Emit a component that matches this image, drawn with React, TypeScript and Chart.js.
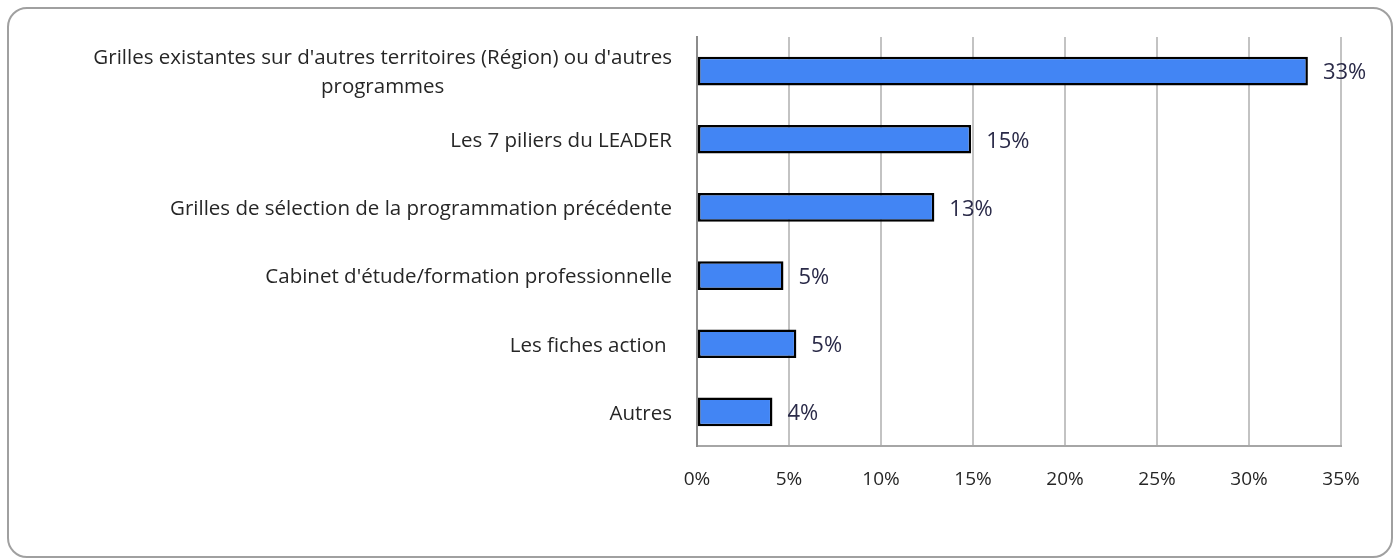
import React, { useEffect, useRef } from "react";
import { Chart, registerables } from "chart.js";

Chart.register(...registerables);

const categories: (string | string[])[] = [
  ["Grilles existantes sur d'autres territoires (Région) ou d'autres", "programmes"],
  "Les 7 piliers du LEADER",
  "Grilles de sélection de la programmation précédente",
  "Cabinet d'étude/formation professionnelle",
  "Les fiches action ",
  "Autres",
];
const values: number[] = [33.2, 14.9, 12.9, 4.7, 5.4, 4.1];
const valueLabels: string[] = ["33%", "15%", "13%", "5%", "5%", "4%"];

const FONT = "'Open Sans', Lato, sans-serif";

export default function App() {
  const ref = useRef<HTMLCanvasElement | null>(null);
  useEffect(() => {
    if (!ref.current) return;
    const labelPlugin = {
      id: "valueLabels",
      afterDatasetsDraw(chart: any) {
        const ctx = chart.ctx;
        const meta = chart.getDatasetMeta(0);
        ctx.save();
        ctx.font = `22px ${FONT}`;
        ctx.fillStyle = "#2a2a48";
        ctx.textAlign = "left";
        ctx.textBaseline = "middle";
        meta.data.forEach((el: any, i: number) => {
          ctx.fillText(valueLabels[i], el.x + 15, el.y + 2);
        });
        ctx.restore();
      },
    };
    const yLabelPlugin = {
      id: "yLabels",
      afterDraw(chart: any) {
        const ctx = chart.ctx;
        const scale = chart.scales.y;
        ctx.save();
        ctx.font = `20.5px ${FONT}`;
        ctx.fillStyle = "#262626";
        ctx.textBaseline = "middle";
        const right = chart.chartArea.left - 25;
        categories.forEach((c, i) => {
          const y = scale.getPixelForTick(i) + 2;
          const lines = Array.isArray(c) ? c : [c];
          const lh = 29;
          const w0 = ctx.measureText(lines[0]).width;
          const center = right - w0 / 2;
          lines.forEach((ln, j) => {
            const yy = y + (j - (lines.length - 1) / 2) * lh;
            if (j === 0) {
              ctx.textAlign = "right";
              ctx.fillText(ln, right, yy);
            } else {
              ctx.textAlign = "center";
              ctx.fillText(ln, center, yy);
            }
          });
        });
        ctx.restore();
      },
    };
    const chart = new Chart(ref.current, {
      type: "bar",
      data: {
        labels: categories as any,
        datasets: [
          {
            data: values,
            backgroundColor: "#4285f4",
            borderColor: "#000000",
            borderWidth: 2.5,
            borderSkipped: false,
            categoryPercentage: 1,
            barPercentage: 0.42,
          },
        ],
      },
      options: {
        indexAxis: "y",
        responsive: false,
        animation: false,
        layout: { padding: { top: 37, right: 59, left: 0, bottom: 0 } },
        plugins: { legend: { display: false }, tooltip: { enabled: false } },
        scales: {
          x: {
            min: 0,
            max: 35,
            ticks: {
              stepSize: 5,
              callback: (v: any) => v + "%",
              font: { family: FONT, size: 19 },
              color: "#262626",
              padding: 22,
              maxRotation: 0,
            },
            grid: { color: "#c3c3c3", lineWidth: 2, drawTicks: false },
            border: { color: "#a6a6a6", width: 2 },
            afterFit: (s: any) => {
              s.height = 560 - 446;
            },
          },
          y: {
            ticks: { color: "transparent", font: { family: FONT, size: 18 }, padding: 25 },
            grid: { display: false, drawTicks: false },
            border: { color: "#8c8c8c", width: 2 },
            afterFit: (s: any) => {
              s.width = 697;
            },
          },
        },
      },
      plugins: [labelPlugin, yLabelPlugin],
    });
    return () => chart.destroy();
  }, []);
  return (
    <div style={{ position: "absolute", left: 0, top: 0, width: 1400, height: 560, background: "#fff" }}>
      <div
        style={{
          position: "absolute",
          left: 7,
          top: 7,
          width: 1386,
          height: 551,
          border: "2px solid #a0a0a0",
          borderRadius: 20,
          boxSizing: "border-box",
        }}
      />
      <canvas ref={ref} width={1400} height={560} style={{ position: "absolute", left: 0, top: 0 }} />
    </div>
  );
}
